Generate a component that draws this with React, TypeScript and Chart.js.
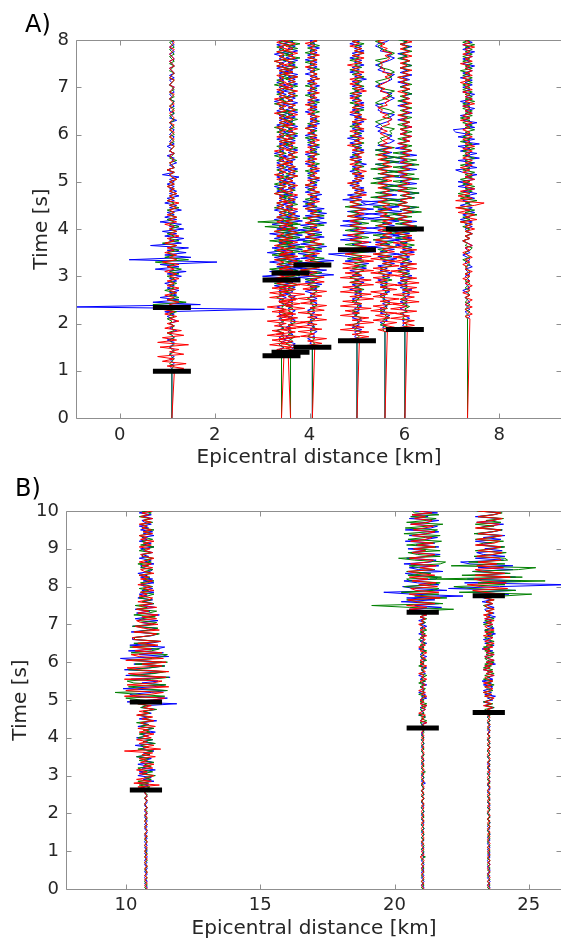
import React, { useEffect, useRef } from "react";
import { Chart, registerables } from "chart.js";

Chart.register(...registerables);

// ---------------- Panel A (dt = 0.05 s from onset, amplitude unit = 0.05 km) ----------------
const A_DT = 0.05;
const A_UNIT = 0.05;
const A_STATIONS = [1.1, 3.41, 3.6, 4.06, 5.0, 5.59, 6.01, 7.33];
const A_ONSETS = [0.95, 1.3, 1.37, 1.48, 1.62, 1.82, 1.86, 2.1];
const A_P_PICKS = [0.99, 1.32, 1.39, 1.5, 1.635, null, 1.875, null];
const A_S_PICKS = [2.34, 2.92, 3.07, 3.24, 3.56, null, 4.0, null];
const A_PICK_HALF = 0.4;
const A_X_TICKS = [0, 2, 4, 6, 8];
const A_Y_TICKS = [0, 1, 2, 3, 4, 5, 6, 7, 8];

const A1_BLUE = [
  0, 1, 0, -1, 1, 0, -1, 1, -1, 0, 1, -1, 0, 1, -2, 1, 0, -1, 2, -1,
  1, -1, 2, 0, -2, 1, -3, 39, -42, 12, -8, 3, -5, 2, -1, 3, -2, 1, -3, 2,
  -1, 4, -2, 6, -7, 3, -5, 19, -18, 8, -3, 6, -2, 7, -9, 4, -1, 5, -3, 2,
  -4, 5, -1, 4, -5, 2, -3, 1, -2, 4, -1, 2, -3, 1, -2, 3, -1, 2, -1, 1,
  -2, 1, -1, 3, -4, 1, -2, 1, -1, 2, 0, 1, -2, 1, -1, 0, -2, 1, -1, 0,
  1, -1, 0, 1, -1, 0, -1, 2, -1, 0, 1, -1, -1, 1, 0, 1, -1, 0, -1, 1,
  0, 1, -1, 0, -1, 1, -1, 1, 0, -1, 1, 0, -1, 1, 0, -1, 1, 0, -1, 1, 0, 1,
];
const A1_GREEN = [
  0, -1, 0, 1, -1, 0, 1, 0, -1, 1, 0, -1, 1, 0, -1, 1, 0, -2, 1, 0,
  1, -1, 0, -2, 1, -1, 2, -3, 5, -8, 6, -2, 3, -1, 2, -3, 1, -1, 2, -1,
  1, -2, 3, -1, 4, -2, 1, -7, 7, -3, 1, -2, 3, -1, 2, -4, 3, -1, 1, -2,
  2, -1, 3, -1, 1, -2, 2, -1, 1, -2, 3, -1, 1, -2, 1, -1, 2, -1, 1, -2,
  1, -1, 2, 0, -1, 1, -2, 1, 0, -1, 2, -1, 0, 1, -1, 0, 1, -1, 1, 0,
  -1, 1, 0, -1, 1, 0, -1, 1, 0, -1, 1, 0, 1, -1, 0, 1, -1, 1, 0, -1,
  1, 0, -1, 0, 1, -1, 0, 1, -1, 0, 1, -1, 1, 0, -1, 1, 0, -1, 1, 0, -1, 1,
];
const A1_RED = [
  1, -3, 5, -2, 6, -4, 1, -6, 5, -1, 3, -5, 7, -6, 2, -4, 5, -2, 4, -3,
  1, -2, 3, -1, 2, -3, 1, -4, 2, -1, 3, -2, 1, -3, 2, -1, 3, -2, 1, -2,
  3, -1, 2, -3, 1, -2, 3, -4, 2, -1, 2, -3, 1, -2, 2, -3, 1, -2, 3, -1,
  2, -1, 1, -3, 2, -1, 2, -2, 1, -1, 2, -1, 3, -2, 1, -1, 2, -1, 1, -2,
  1, -1, 2, 0, -1, 1, -2, 1, 0, -1, 1, 0, -1, 1, -1, 0, 1, -1, 0, 1,
  -1, 0, 1, -1, 0, 1, -1, 0, 1, 0, -1, 1, 0, -1, 1, 0, -1, 0, 1, -1,
  0, 1, -1, 0, 1, -1, 0, 1, 0, -1, 1, 0, -1, 1, 0, -1, 0, 1, -1, 0, 1, 0,
];

const A2_BLUE = [
  0, 1, 0, -1, 1, -1, 0, 2, -1, 1, 0, -2, 1, -1, 1, 0, -1, 2, -1, 0,
  1, -2, 1, 0, -1, 2, -1, 3, -1, 2, -3, 4, -2, 6, -8, 3, -5, 6, -2, 4,
  -5, 2, -3, 5, -6, 2, -4, 6, -1, 5, -3, 2, -5, 6, -2, 3, -4, 1, -3, 4,
  -1, 2, -3, 1, -2, 3, -1, 2, -1, 3, -2, 1, -3, 2, -1, 2, -2, 1, -1, 3,
  -2, 1, -2, 1, -1, 2, -3, 1, -1, 2, -1, 3, -2, 1, -1, 2, -1, 1, -2, 2,
  -1, 2, -1, 3, -2, 1, -1, 2, -3, 1, -1, 2, -2, 1, -1, 2, -2, 1, -1, 2,
  -1, 3, -2, 1, -1, 2, -1, 1, -3, 2, -1, 1, -2, 3, -1,
];
const A2_GREEN = [
  0, -1, 1, 0, 1, -1, 0, -1, 1, 0, 1, -2, 1, 0, -1, 1, 0, -1, 2, -1,
  1, 0, 2, -1, 1, -2, 1, -1, 3, -1, 2, -3, 4, -1, 5, -2, 3, -5, 4, -1,
  4, -2, 5, -4, 1, -3, 5, -2, 4, -5, 6, -2, 5, -3, 5, -7, 8, -10, 6, -2,
  3, -1, 2, -3, 1, -2, 3, -1, 2, -3, 1, -2, 2, -3, 1, -1, 3, -2, 1, -2,
  2, -1, 3, -2, 1, -3, 2, -1, 1, -2, 3, -1, 2, -1, 3, -2, 1, -3, 2, -1,
  3, -1, 2, -2, 3, -1, 1, -3, 2, -1, 3, -2, 1, -1, 2, -3, 1, -2, 3, -1,
  2, -1, 3, -2, 1, -3, 2, -1, 3, -2, 1, -2, 3, -1, 2,
];
const A2_RED = [
  1, -3, 4, -2, 4, -5, 2, -4, 5, -6, 1, -4, 6, -3, 2, -6, 5, -2, 6, -4,
  2, -6, 4, -1, 6, -5, 2, -5, 3, -4, 5, -2, 4, -3, 1, -3, 4, -1, 3, -2,
  1, -3, 4, -1, 3, -2, 1, -3, 2, -1, 3, -2, 1, -3, 2, -1, 3, -2, 1, -2,
  2, -1, 3, -2, 1, -2, 2, -1, 1, -3, 2, -1, 2, -1, 2, -2, 1, -3, 2, -1,
  1, -2, 3, -1, 2, -1, 1, -3, 2, -1, 2, -1, 3, -2, 1, -1, 2, -2, 3, -1,
  2, -1, 1, -3, 2, -1, 2, -2, 1, -3, 2, -1, 1, -2, 3, -1, 2, -1, 1, -2,
  3, -1, 2, -2, 1, -3, 2, -1, 1, -2, 3, -1, 2, -2, 1,
];

const A3_BLUE = [
  0, -1, 1, 0, 2, -1, 0, -2, 1, -1, 0, -2, 1, 0, 2, -1, 1, 0, 2, -1,
  1, -2, 1, 0, 2, -2, 1, -1, 2, -3, 1, -2, 3, -4, 5, -2, 5, -4, 6, -1,
  4, -5, 2, -4, 5, -1, 4, -5, 6, -2, 5, -3, 4, -5, 1, -4, 5, -2, 4, -1,
  3, -2, 1, -3, 2, -1, 3, -2, 1, -3, 2, -1, 2, -3, 1, -2, 2, -1, 3, -2,
  1, -2, 2, -3, 1, -1, 3, -2, 1, -3, 2, -1, 3, -2, 1, -1, 3, -2, 1, -3,
  2, -1, 3, -2, 1, -2, 3, -1, 2, -1, 2, -3, 1, -2, 3, -1, 2, -1, 3, -2,
  1, -3, 2, -1, 3, -2, 1, -2, 3, -1, 2, -3, 1, -2, 2,
];
const A3_GREEN = [
  0, 1, -1, 0, -2, 1, 0, 2, -1, 1, -1, 0, -1, 2, 0, 1, -2, 1, -1, 1,
  -2, 1, -1, 2, -1, 0, -2, 2, -1, 3, -2, 1, -3, 4, -2, 3, -5, 4, -1, 5,
  -4, 2, -5, 4, -2, 6, -4, 1, -5, 4, -2, 5, -4, 3, -1, 3, -3, 4, -1, 2,
  -3, 1, -2, 3, -1, 2, -3, 1, -3, 2, -1, 2, -3, 1, -1, 3, -2, 3, -1, 2,
  -3, 1, -2, 3, -1, 2, -1, 3, -2, 1, -3, 2, -1, 3, -2, 1, -3, 2, -1, 3,
  -2, 1, -3, 3, -1, 2, -3, 1, -2, 3, -1, 2, -3, 3, -1, 2, -2, 3, -3, 1,
  -2, 3, -1, 2, -3, 4, -2, 1, -3, 3, -1, 4, -2, 5, -3,
];
const A3_RED = [
  -1, 3, -2, 5, -4, 1, -5, 4, -6, 2, -4, 5, -1, 6, -4, 3, -5, 1, -5, 6,
  -2, 4, -5, 3, -1, 6, -5, 2, -5, 4, -1, 4, -5, 2, -4, 1, -3, 4, -1, 3,
  -2, 3, -4, 1, -3, 2, -1, 3, -3, 1, -2, 3, -1, 2, -3, 1, -2, 3, -1, 2,
  -1, 3, -2, 1, -3, 2, -1, 3, -2, 1, -1, 3, -2, 1, -2, 3, -1, 2, -1, 2,
  -3, 1, -2, 2, -1, 3, -2, 1, -1, 2, -3, 1, -2, 2, -1, 3, -2, 1, -2, 1,
  -2, 3, -1, 2, -1, 2, -3, 1, -2, 2, -1, 3, -2, 1, -2, 2, -1, 3, -2, 1,
  -2, 2, -3, 1, -2, 2, -1, 3, -2, 1, -2, 2, -3, 1, -2,
];

const A4_BLUE = [
  0, 1, -1, 0, -2, 1, 0, 2, -1, 1, -2, 0, -1, 2, -1, 1, -2, 1, 0, 2,
  -1, 2, -1, 1, -3, 2, -1, 4, -3, 2, -6, 9, -2, 6, -7, 3, -6, 9, -5, 2,
  -6, 4, -2, 6, -5, 1, -6, 5, -2, 4, -6, 2, -5, 6, -1, 5, -3, 6, -2, 5,
  -4, 1, -4, 3, -1, 4, -3, 1, -3, 2, -1, 3, -2, 1, -2, 3, -1, 2, -3, 1,
  -2, 1, -3, 2, -1, 3, -2, 1, -2, 2, -3, 1, -1, 2, -2, 3, -1, 2, -1, 1,
  -3, 2, -1, 2, -2, 3, -1, 1, -2, 2, -1, 3, -2, 1, -1, 2, -3, 1, -2, 2,
  -1, 2, -3, 1, -2, 2, -1, 3, -2, 1, -1, 2,
];
const A4_GREEN = [
  0, -1, 1, 0, 1, -2, 0, -1, 2, 0, 1, -2, 1, -1, 0, -2, 1, -1, 2, -1,
  1, -2, 1, 0, 2, -1, 3, -2, 1, -3, 4, -1, 4, -5, 2, -3, 5, -1, 5, -4,
  1, -5, 4, -2, 5, -4, 2, -3, 4, -5, 1, -4, 5, -2, 3, -4, 5, -1, 4, -3,
  2, -3, 1, -3, 2, -1, 3, -2, 1, -3, 2, -1, 3, -2, 1, -3, 2, -1, 3, -2,
  1, -2, 3, -1, 2, -1, 3, -2, 1, -3, 2, -1, 2, -3, 1, -2, 3, -1, 2, -1,
  3, -1, 2, -2, 3, -1, 1, -3, 2, -1, 2, -3, 1, -2, 3, -1, 2, -1, 3, -2,
  1, -3, 2, -1, 2, -3, 1, -2, 3, -1, 2, -1,
];
const A4_RED = [
  1, -3, 4, -2, 6, -5, 1, -6, 4, -6, 2, -5, 6, -2, 4, -6, 5, -1, 6, -5,
  2, -6, 4, -1, 6, -4, 2, -6, 5, -1, 5, -5, 2, -5, 3, -1, 4, -3, 1, -3,
  3, -4, 1, -3, 4, -1, 3, -3, 1, -3, 3, -1, 2, -3, 1, -2, 3, -1, 2, -3,
  1, -2, 3, -1, 2, -2, 3, -1, 2, -3, 1, -2, 3, -1, 2, -1, 3, -2, 1, -3,
  2, -1, 2, -3, 1, -2, 2, -1, 3, -1, 2, -2, 1, -3, 2, -1, 2, -1, 3, -2,
  1, -2, 2, -3, 1, -2, 2, -1, 3, -2, 1, -1, 2, -2, 3, -1, 2, -1, 1, -3,
  2, -1, 2, -2, 3, -1, 2, -1, 1, -3, 2, -1,
];

const A5_BLUE = [
  0, 1, -1, 0, -1, 2, -2, 1, 0, 2, -2, 0, -2, 1, -1, 2, -1, 0, -2, 2,
  -1, 2, -3, 1, -2, 3, -1, 3, -2, 1, -3, 4, -1, 5, -5, 2, -4, -12, 8, -3,
  7, -2, 6, -7, 1, -6, 8, -3, 6, -7, 2, -6, 7, -1, 6, -4, 7, -3, 5, 10,
  -6, 2, -4, 4, -1, 3, -3, 1, -2, 3, -1, 2, -3, 1, -2, 4, -1, 2, -3, 1,
  -2, 3, -1, 2, -3, 1, -4, 2, -1, 3, -2, 1, -2, 3, -1, 2, -3, 1, -2, 3,
  -1, 3, -2, 1, -3, 2, -1, 3, -2, 1, -2, 4, -1, 2, -3, 1, -2, 3, -1, 2,
  -3, 1, -2, 3, -1, 2, -3, 1, -2,
];
const A5_GREEN = [
  0, -1, 1, 0, 2, -1, 0, -2, 1, 0, 2, -1, 1, -2, 1, 0, 2, -2, 1, -1,
  2, -1, 3, -1, 2, -3, 1, -3, 2, -1, 3, -2, 4, -1, 3, -4, 2, -4, 5, -1,
  4, -5, 2, -3, 5, -1, 3, -5, 1, -3, 5, -2, 3, -4, 1, -3, 4, -5, 2, -3,
  1, -3, 2, -1, 3, -2, 1, -3, 2, -1, 3, -2, 1, -2, 3, -1, 2, -3, 1, -2,
  3, -1, 2, -2, 3, -1, 1, -3, 2, -1, 2, -3, 1, -2, 3, -1, 2, -1, 3, -2,
  1, -3, 2, -1, 2, -3, 1, -2, 3, -1, 2, -1, 3, -2, 1, -3, 2, -1, 2, -3,
  1, -2, 3, -1, 2, -1, 3, -2, 1,
];
const A5_RED = [
  1, -3, 5, -2, 5, -7, 3, -5, 7, -2, 5, -7, 1, -5, 6, -7, 2, -6, 7, -3,
  6, -7, 2, -6, 7, -3, 6, -7, 2, -5, 7, -6, 1, -6, 7, -2, 6, -5, 1, -5,
  4, -1, 5, -3, 2, -4, 3, -1, 4, -3, 1, -3, 2, -4, 3, -1, 4, -3, 1, -3,
  2, -3, 4, -1, 3, -2, 1, -4, 2, -1, 3, -2, 4, -1, 2, -3, 1, -3, 2, -1,
  3, -2, 1, -4, 2, -1, 3, -2, 1, -3, 3, -1, 2, -2, 4, -1, 2, -3, 1, -2,
  3, -1, 2, -3, 1, -2, 4, -1, 2, -3, 1, -3, 2, -1, 3, -2, 1, -4, 2, -1,
  3, -2, 3, -1, 2, -3, 1, -2, 3,
];

const A6_BLUE = [
  0, 1, -1, 0, -2, 1, 0, 2, -2, 0, -2, 1, -1, 2, -1, 0, -2, 2, -1, 1,
  -2, 1, -3, 2, -1, 3, -2, 1, -3, 4, -1, 5, -3, 6, -2, 4, -6, 2, -4, 6,
  -2, 6, -4, 2, -6, 4, -1, 6, -7, 2, -6, 7, -3, 6, -8, -10, 7, -4, 5, -2,
  4, -1, 5, -3, 1, -4, 3, -2, 4, -3, 1, -4, 5, -2, 4, -1, 3, -4, 2, -3,
  2, 4, 1, 3, 0, -3, -1, -4, -2, 1, 3, 2, 4, -1, -3, -2, -4, 0, 2, 4,
  1, 3, -2, -1, -4, -2, 1, 3, 2, 4, 0, -3, -1, -4, -1, 2, 4, 1, 3, -2,
  -1, -4, -3, 1, 2,
];
const A6_GREEN = [
  0, -1, 1, -2, 0, -1, 2, 0, 1, -2, 1, 0, 2, -1, 0, -2, 1, 0, 2, -2,
  1, -2, 3, -1, 2, -3, 1, -2, 3, -1, 4, -2, 3, -4, 1, -3, 5, -2, 4, -5,
  2, -5, 6, -1, 5, -4, 2, -6, 5, -1, 6, -4, 2, -5, 6, -3, 5, -6, 2, -4,
  6, -2, 4, -6, 1, -5, 6, -3, 5, -6, 2, -4, 6, -2, 5, -4, 1, -4, 4, -2,
  -3, -1, -2, 1, 3, 2, 4, -1, -2, -4, -1, 2, 1, 4, 2, -2, -1, -4, -2, 1,
  3, 1, 4, -1, -3, -2, -4, 0, 3, 1, 4, 2, -2, -3, -1, -4, 1, 2, 4, 1,
  -2, -3, -1, -4, 0,
];
const A6_RED = [
  1, -3, 4, -1, 5, -5, 2, -4, 5, -6, 1, -5, 6, -2, 6, -5, 1, -6, 5, -2,
  5, -4, 1, -5, 5, -6, 2, -5, 6, -1, 4, -6, 2, -5, 4, -1, 4, -4, 1, -4,
  3, -1, 3, -3, 1, -3, 3, -1, 4, -2, 1, -3, 3, -1, 2, -3, 1, -3, 3, -1,
  2, -3, 1, -3, 3, -1, 4, -2, 1, -3, 3, -1, 2, -3, 1, -3, 2, -1, 3, -2,
  1, -1, 2, 0, -2, 1, -2, -1, 2, 1, 3, -1, 1, -2, -1, -3, 1, 0, 2, -1,
  2, 1, -2, 0, -3, -1, 1, 2, 0, 3, -1, 0, -2, -1, -2, 1, 2, 0, 3, -1,
  1, -2, 0, -3, 1,
];

const A7_BLUE = [
  0, 1, -1, 0, -1, 2, 0, -1, 1, -2, 0, 1, -2, 1, 0, 2, -1, 3, -2, 1,
  -3, 1, -2, 3, -1, 2, -3, 1, -2, 3, -1, 2, -3, 4, -1, 3, -4, 1, -4, 3,
  -5, 2, -6, -8, 5, -2, 5, -4, 1, -5, 4, -2, 5, -4, 1, -5, 4, -2, 6, -4,
  1, -4, 5, -2, 4, -6, 1, -4, 5, -2, 4, -5, 1, -4, 5, -2, 3, -4, 1, -3,
  2, -1, 3, -2, 1, -2, 3, -1, 2, -3, 1, -2, 3, -1, 2, -3, 1, -2, 2, -1,
  3, -1, 2, -2, 1, -3, 2, -1, 3, -2, 1, -2, 3, -1, 2, -2, 1, -3, 2, -1,
  3, -2, 1, -2,
];
const A7_GREEN = [
  0, -1, 1, 0, 2, -1, 0, -2, 1, 0, 2, -1, 1, -2, 0, -1, 2, -1, 1, -2,
  1, -2, 3, -1, 2, -3, 1, -2, 3, -1, 2, -3, 1, -2, 3, -1, 4, -2, 3, -4,
  2, -4, 5, -1, 5, -4, 2, -6, 3, -5, 7, -2, 6, -4, 1, -6, 4, -2, 6, -3,
  5, -6, 1, -5, 6, -2, 4, -6, 2, -5, 6, -1, 5, -4, 2, -5, 3, -1, 3, -2,
  1, -3, 2, -1, 3, -2, 1, -3, 2, -1, 3, -2, 1, -2, 3, -1, 2, -3, 1, -2,
  3, -1, 2, -2, 3, -1, 1, -3, 2, -1, 2, -2, 3, -1, 2, -3, 1, -2, 3, -1,
  2, -2, 1, -3,
];
const A7_RED = [
  1, -3, 4, -1, 4, -6, 2, -4, 5, -6, 1, -5, 6, -2, 4, -5, 6, -1, 5, -4,
  6, -2, 5, -4, 1, -6, 5, -2, 5, -5, 1, -5, 4, -2, 5, -4, 1, -5, 4, -1,
  3, -4, 1, -3, 4, -1, 3, -3, 1, -3, 3, -1, 2, -3, 1, -2, 3, -1, 2, -3,
  1, -3, 2, -1, 3, -2, 1, -3, 2, -1, 3, -2, 1, -2, 2, -1, 3, -2, 1, -3,
  2, -1, 3, -2, 1, -2, 3, -1, 2, -2, 1, -3, 2, -1, 2, -2, 3, -1, 2, -1,
  1, -3, 2, -1, 2, -2, 1, -3, 2, -1, 3, -2, 1, -2, 2, -1, 3, -1, 2, -2,
  1, -2, 3, -1,
];

const A8_BLUE = [
  0, 1, 0, -1, 1, 0, -1, 1, 0, -1, 1, 0, -2, 1, 0, -1, 1, 0, -1, 1,
  0, -1, 2, 0, -1, 1, 0, -2, 1, 0, -1, 2, 0, -2, 1, -1, 2, 0, -1, 2,
  -1, 2, -3, 1, -2, 3, -1, 2, -3, 1, -2, 3, -1, 4, -2, 3, -4, 1, -4, 3,
  -1, 4, -2, -5, 4, -1, 3, -4, 5, -1, 4, -3, 1, -4, 5, -2, 3, -4, 1, -5,
  -6, 3, -1, 4, -2, 1, -3, 2, -1, 3, -2, 1, -3, 2, -1, 3, -2, 1, -2, 2,
  -1, 2, -3, 1, -2, 2, -1, 3, -2, 1, -2, 2, -1, 3, -2, 1, -2, 2, -1,
];
const A8_GREEN = [
  0, -1, 0, 1, -1, 0, 1, -1, 0, -1, 1, 0, 1, -1, 0, 1, -1, 0, 1, -1,
  1, 0, -1, 1, 0, -2, 1, 0, -1, 1, 2, -1, 0, -2, 1, -1, 2, -1, 1, -2,
  2, -3, 1, -2, 4, -1, 3, -4, 2, -1, 4, -3, 1, -4, 2, -1, 3, -2, 1, -3,
  2, -1, 3, -2, 1, -3, 2, -1, 3, -2, 1, -2, 3, -1, 2, -3, 1, -2, 2, -1,
  3, -1, 2, -2, 1, -3, 2, -1, 2, -2, 1, -2, 3, -1, 2, -1, 2, -2, 1, -2,
  2, -1, 2, -2, 1, -3, 2, -1, 2, -2, 1, -2, 2, -1, 2, -1, 3, -2, 1,
];
const A8_RED = [
  1, -1, 2, 0, -1, 2, -1, 0, 2, -1, 1, -2, 1, 0, 2, -1, 1, -2, 1, -1,
  2, -1, 0, -2, 1, -1, 2, 0, -2, 1, -1, 2, 0, -2, 1, -1, 2, -1, 3, -1,
  2, -3, 4, -1, 3, -4, 1, -5, 3, 7, -5, 2, -4, 1, -3, 3, -1, 2, -2, 3,
  -1, 2, -2, 1, -3, 2, -1, 2, -2, 1, -1, 2, -2, 3, -1, 1, -2, 2, -1, 1,
  -2, 1, -1, 2, -3, 1, -2, 2, -1, 1, -2, 3, -1, 2, -1, 1, -2, 2, -1, 1,
  -3, 1, -2, 2, -1, 2, -1, 1, -3, 2, -1, 2, -2, 1, -1, 3, -2, 1, -1,
];

const A_BLUE = [A1_BLUE, A2_BLUE, A3_BLUE, A4_BLUE, A5_BLUE, A6_BLUE, A7_BLUE, A8_BLUE];
const A_GREEN = [A1_GREEN, A2_GREEN, A3_GREEN, A4_GREEN, A5_GREEN, A6_GREEN, A7_GREEN, A8_GREEN];
const A_RED = [A1_RED, A2_RED, A3_RED, A4_RED, A5_RED, A6_RED, A7_RED, A8_RED];

// ---------------- Panel B (dt = 0.05 s from t = 0, amplitude unit = 0.05 km) ----------------
const B_DT = 0.05;
const B_UNIT = 0.05;
const B_STATIONS = [10.74, 21.05, 23.51];
const B_ONSETS = [0, 0, 0];
const B_P_PICKS = [2.62, 4.26, 4.67];
const B_S_PICKS = [4.95, 7.32, 7.76];
const B_PICK_HALF = 0.6;
const B_X_TICKS = [10, 15, 20, 25];
const B_Y_TICKS = [0, 1, 2, 3, 4, 5, 6, 7, 8, 9, 10];

const B1_BLUE = [
  0, 1, 0, -1, 1, 0, -1, 0, 1, -1, 0, 1, 0, -1, 1, -1, 0, 1, 0, -1,
  1, 0, -1, 1, 0, -1, 0, 1, -1, 0, 1, 0, -1, 1, -1, 0, 1, 0, -1, 0,
  1, -1, 0, 1, -1, 0, 1, 0, -1, 1, 0, -1, 1,
  1, -3, 2, -5, 6, -2, 4, -6, 1, -5, 7, -3, 2, -6, 5, -1, 4, -7, 3, -2,
  6, -4, 1, -8, 6, -2, 5, -7, 2, -4, 7, -1, 5, -6, 2, -3, 8, -5, 1, -6,
  4, -2, 7, -3, -1, 23,
  -14, 5, 16, -8, -12, 4, 15, -17, 6, 14, -3, 9, -11, 18, -15, 4, 13, -16, 2, 14,
  -9, 12, -7, -19, 17, -5, 13, -13, 8, 14, -12, 3, 11, -10,
  -10, 4, 9, -11, 2, 8, -10, 6, -3, 9, -8, 2, 10, -7, 3, -8, 7, -2,
  6, -2, 5, -6, 1, -5, 6, -3, 5, -1, -4, 6, -2, 5, -4, 1, -6, 3, 5, -2,
  -4, 6, -1, 4, -5, 2, -3, 5, -1, -4, 6, -2, 4, -5, 1, -3, 6, -2, 5, -4,
  2, -5, 4, -1, -3, 5, -2, 4, -5, 1,
];
const B1_GREEN = [
  0, -1, 1, 0, -1, 0, 1, -1, 0, 1, -1, 0, 1, 0, -1, 1, 0, -1, 0, 1,
  -1, 1, 0, -1, 0, 1, -1, 0, 1, -1, 0, 1, 0, -1, 1, 0, -1, 1, 0, -1,
  0, 1, -1, 1, 0, -1, 0, 1, -1, 0, 1, -1, 0,
  -1, 3, -5, 2, -6, 4, -1, 7, -3, 5, -2, -6, 4, -1, 6, -5, 2, -7, 3, -1,
  5, -6, 2, -4, 7, -2, 5, -6, 1, -5, 3, -2, 6, -4, 2, -7, 5, -1, 4, -6,
  3, -2, 8, -4, 1, -6,
  10, -4, -15, 14, -6, -23, 16, -3, -13, 15, -9, -14, 4, 17, -12, 6, 15, -13, 3, 14,
  -8, 16, -14, 5, 12, 16, -11, 4, 10, -12, 7, -9, 11, -8,
  -9, 3, 10, -8, 2, 9, -10, 4, 8, -6, -3, 7, -9, 2, 8, -7, 1, -8,
  6, -3, 4, -5, 1, 6, -4, 2, -5, 5, -1, -4, 6, -2, 3, -5, 4, -1, 5, -4,
  2, -6, 4, -1, 5, -3, -2, 4, -5, 1, 6, -4, 2, -3, 5, -1, -5, 4, -2, 6,
  -3, 1, -4, 5, -2, 3, -5, 1, 4, -3,
];
const B1_RED = [
  1, 0, -1, 1, 0, -1, 1, -1, 0, 1, 0, -1, 1, 0, -1, 0, 1, -1, 1, 0,
  -1, 0, 1, -1, 0, 1, 0, -1, 1, -1, 0, 1, 0, -1, 1, 0, -1, 0, 1, -1,
  1, 0, -1, 1, 0, -1, 0, 1, -1, 1, 0, -1, 1,
  3, -6, 10, -9, 4, -7, 2, 6, -5, 1, -7, 5, -2, 6, -4, 1, -5, 7, -3, 5,
  -16, 11, -2, 6, -5, 1, -7, 4, -2, 6, -5, 2, -6, 7, -1, -4, 6, -3, 5, -7,
  2, -5, 6, -2, 4, -6,
  -12, 6, 14, -16, 3, 13, -15, -4, 17, -14, 5, 12, -16, 15, -2, -13, 17, -6, -14, 12,
  -3, 15, -15, 13, -5, -11, 12, -8, 4, -10, 9, -6, 11, -9,
  -10, 3, 8, -9, 10, -2, -8, 9, -4, -7, 8, -3, 9, -6, 2, -7, 8, -5,
  5, -6, 2, 5, -5, 1, -4, 6, -2, 4, -6, 1, 5, -4, 2, -5, 6, -1, -4, 5,
  -3, 4, -5, 1, 6, -2, -4, 5, -1, 3, -5, 4, -2, 6, -4, 1, -5, 5, -2, 4,
  -3, 1, -5, 4, -2, 5, -4, 2, -3, 5,
];

const B2_BLUE = [
  0, 1, -1, 0, 1, 0, -1, 1, 0, -1, 1, -1, 0, 1, 0, -1, 0, 1, -1, 1,
  0, -1, 1, 0, -1, 0, 1, -1, 0, 1, -1, 0, 1, 0, -1, 1, 0, -1, 1, -1,
  0, 1, 0, -1, 1, 0, -1, 0, 1, -1, 1, 0, -1, 1, 0, -1, 2, -1, 0, 1,
  -1, 0, 1, 0, -1, 1, -1, 0, 1, 0, -1, 1, 0, -1, 1, -1, 0, 1, 0, -1,
  1, 0, -1, 0, 1,
  -2, 1, -1, 3, -2, 0, 2, -3, 1, -1, 2, -2, 3, -1, 0, -2, 3, -1, 2, -3,
  1, 0, -2, 3, -1, 2, -2, 1, -3, 2, 0, -1, 3, -2, 1, -2, 2, -1, 3, -2,
  0, 2, -3, 1, -1, 3, -2, 1, -2, 2, -3, 1, 0, -2, 3, -1, 2, -3, 1, -2,
  3,
  -4, 8, -10, 14, -6, 12, -16, 9, -12, 30, -8, -29, 18, -6, -15, 12, -4, -14, 10,
  11, -5, -13, 15, -3, -10, 12, -14, 6, 10, -12, 4, 13, -9, 2, -11, 12, -5, 9, -13,
  3, 11, -10, 2, 12, -13, 6, 11, -9, 2, 12, -10, 4, -8, 11, -6,
];
const B2_GREEN = [
  0, -1, 1, 0, -1, 1, 0, -1, 0, 1, -1, 1, 0, -1, 1, 0, -1, 2, -1, 0,
  1, -1, 0, 1, 0, -1, 1, -1, 0, 1, 0, -1, 1, 0, -1, 0, 1, -1, 1, 0,
  -1, 1, 0, -1, 0, 1, -1, 0, 1, -1, 1, 0, -1, 1, 0, -1, 0, 1, -1, 1,
  0, -1, 2, 0, -1, 1, 0, -1, 1, -1, 0, 1, 0, -1, 1, 0, -1, 1, 0, -1,
  1, -1, 0, 1, 0,
  2, -1, 0, -2, 3, -1, 2, -3, 1, 0, -2, 2, -1, 3, -2, 1, -1, 2, -3, 1,
  0, 2, -2, 1, -3, 2, -1, 0, 3, -2, 1, -1, 2, -3, 1, -2, 3, 0, -2, 1,
  -1, 3, -2, 1, -2, 2, 0, -3, 1, -1, 2, -2, 3, -1, 0, -2, 2, -1, 3, -2,
  1,
  4, -6, 23, -10, -38, 15, -4, -12, 18, -6, 12, -16, 8, 12, -14, 5, 13, -9, -12,
  14, -11, 6, -12, 9, -3, -10, 13, 17, -6, -18, 13, -4, -11, 13, -5, 10, -12, 3, 14,
  -11, 2, 13, -14, 5, 11, -13, 4, 15, -12, 3, 10, -9, 12, -6, -8,
];
const B2_RED = [
  1, 0, -1, 1, -1, 0, 1, 0, -1, 1, 0, -1, 1, -1, 0, 1, 0, -2, 1, 0,
  -1, 1, 0, -1, 1, -1, 0, 1, 0, -1, 1, 0, -1, 0, 1, -1, 1, 0, -1, 1,
  0, -1, 0, 1, -1, 1, 0, -1, 1, 0, -1, 1, -1, 0, 1, 0, -1, 1, 0, -1,
  0, 1, -1, 1, 0, -1, 1, 0, -1, 1, -1, 0, 1, 0, -1, 1, 0, -1, 0, 1,
  -1, 1, 0, -1, 1,
  -2, 1, 0, 3, -2, 1, -1, 2, -3, 0, 2, -1, 3, -2, 1, -2, 0, 3, -1, 2,
  -3, 1, -1, 2, 0, -2, 3, -1, 1, -3, 2, 0, -1, 3, -2, 1, -2, 2, -1, 0,
  3, -2, 1, -3, 2, -1, 0, 2, -2, 3, -1, 1, -2, 2, 0, -3, 1, -1, 2, -2,
  3,
  -3, 6, -10, 3, -12, 9, -4, -11, 13, -2, -10, 12, -5, -9, 11, -3, 10, -8, 4,
  -10, 9, -3, -11, 8, -2, 10, -9, 4, 8, -10, 3, 9, -8, 2, -7, 9, -4, 8, -9,
  2, 7, -8, 3, 9, -7, 1, 8, -9, 4, 7, -6, 2, -8, 7, -3,
];

const B3_BLUE = [
  0, 1, -1, 0, 1, 0, -1, 1, -1, 0, 1, 0, -1, 1, 0, -1, 0, 1, -1, 1,
  0, -1, 1, 0, -1, 0, 1, -1, 0, 1, 0, -1, 1, -1, 0, 1, 0, -1, 1, 0,
  -1, 0, 1, -1, 1, 0, -1, 1, 0, -1, 1, -1, 0, 1, 0, -1, 0, 1, -1, 1,
  0, -1, 1, 0, -1, 1, -1, 0, 1, 0, -1, 1, 0, -1, 0, 1, -1, 1, 0, -1,
  1, 0, -1, 1, -1, 0, 1, 0, -1, 1, 0, -1, 0,
  -2, 3, -1, 4, -3, 1, -4, 3, -1, 5, -3, 2, -4, 1, 3, -4, 2, -5, 3, -1,
  4, -2, 3, -4, 1, -3, 5, -2, 4, -1, -3, 4, -2, 3, -5, 1, 4, -3, 2, -4,
  3, -1, 5, -2, -3, 4, -1, 3, -4, 2, -3, 5, -1, 4, -2, -3, 4, -1, 3, -5,
  2, -4,
  -8, 15, -12, 20, -30, 8, 60, -18, 24, -16, 20, -10, 14, -12, 18, -8, 18, -14, -21, 11,
  -10, 12, -4, -9, 10, -3, 11, -8, 2, -10, 9, -4, 12, -9, 3, 10, -8, -2, 11, -9,
  4, 8, -10, 3, 9, -7,
];
const B3_GREEN = [
  0, -1, 1, 0, -1, 1, 0, -1, 0, 1, -1, 1, 0, -1, 0, 1, -1, 0, 1, -1,
  1, 0, -1, 1, 0, -1, 0, 1, -1, 1, 0, -1, 0, 1, -1, 1, 0, -1, 1, 0,
  -1, 0, 1, -1, 0, 1, -1, 1, 0, -1, 1, 0, -1, 0, 1, -1, 1, 0, -1, 1,
  0, -1, 0, 1, -1, 0, 1, -1, 1, 0, -1, 1, 0, -1, 0, 1, -1, 1, 0, -1,
  1, 0, -1, 0, 1, -1, 0, 1, -1, 1, 0, -1, 1,
  3, -1, -3, 4, -2, 3, -4, 1, 3, -3, 2, -4, 3, -1, -3, 4, -2, 3, -4, 1,
  -3, 4, -1, 3, -4, 2, -3, 4, -1, -3, 3, -2, 4, -3, 1, -4, 3, -2, 4, -1,
  -3, 3, -2, 4, -3, 1, 3, -4, 2, -3, 4, -1, -3, 3, -2, 4, -1, -4, 3, -2,
  4, -3,
  10, 32, -22, 20, -14, -26, 12, -8, 42, -44, 25, -20, 16, -12, 22, 35, -28, 12, -15, 14,
  12, -11, 3, 13, -10, 2, 12, -9, -4, 11, -10, 3, 9, -11, 2, 10, -9, 4, -10, 9,
  -2, 11, -8, 3, 10, -9,
];
const B3_RED = [
  1, 0, -1, 1, -1, 0, 1, 0, -1, 1, 0, -1, 0, 1, -1, 1, 0, -1, 1, 0,
  -1, 1, -1, 0, 1, 0, -1, 0, 1, -1, 1, 0, -1, 1, 0, -1, 1, -1, 0, 1,
  0, -1, 0, 1, -1, 1, 0, -1, 1, 0, -1, 1, -1, 0, 1, 0, -1, 1, 0, -1,
  0, 1, -1, 1, 0, -1, 1, -1, 0, 1, 0, -1, 0, 1, -1, 1, 0, -1, 1, 0,
  -1, 1, -1, 0, 1, 0, -1, 1, 0, -1, 0, 1, -1,
  -3, 4, -1, 3, -4, 2, -3, 1, 4, -3, 2, -4, 1, 3, -3, 2, -4, 3, -1, -3,
  4, -2, 3, -4, 1, -3, 3, -2, 4, -1, -3, 4, -2, 1, -4, 3, -2, 4, -3, 1,
  3, -4, 2, -3, 4, -1, -3, 3, -2, 4, -3, 1, -4, 3, -2, 4, -1, -3, 3, -2,
  4, -3,
  -6, 10, -4, -12, 14, -6, -16, 13, -5, -11, 16, -10, 12, -4, -10, 11, -9, 6, -8, 9,
  8, -9, 3, 10, -8, 2, 9, -10, 4, 8, -9, 2, 10, -8, 3, 9, -10, 2, 8, -9,
  3, 10, -8, 4, 9, -8,
];

const B_BLUE = [B1_BLUE, B2_BLUE, B3_BLUE];
const B_GREEN = [B1_GREEN, B2_GREEN, B3_GREEN];
const B_RED = [B1_RED, B2_RED, B3_RED];

// ---------------- styling ----------------
const FONT = "'DejaVu Sans', 'Liberation Sans', sans-serif";
const TEXT = "#262626";
const AXIS = "#8f8f8f";
const COL_BLUE = "#0000ff";
const COL_GREEN = "#008000";
const COL_RED = "#ff0000";

type Pt = { x: number; y: number };

function tracePoints(station: number, t0: number, dt: number, unit: number, values: number[]): Pt[] {
  const pts: Pt[] = [];
  if (t0 > 0) pts.push({ x: station, y: 0 });
  values.forEach((v, k) => pts.push({ x: station + v * unit, y: t0 + k * dt }));
  return pts;
}

function buildDatasets(
  stations: number[], onsets: number[], dt: number, unit: number,
  blue: number[][], green: number[][], red: number[][],
  pPicks: (number | null)[], sPicks: (number | null)[], half: number
) {
  const ds: any[] = [];
  const line = (data: Pt[], color: string, order: number, width = 1) => ({
    data, borderColor: color, backgroundColor: color, borderWidth: width,
    showLine: true, pointRadius: 0, pointHoverRadius: 0, tension: 0, order,
  });
  stations.forEach((s, i) => {
    [pPicks[i], sPicks[i]].forEach((p) => {
      if (p !== null && p !== undefined) {
        ds.push(line([{ x: s - half, y: p }, { x: s + half, y: p }], "#000000", 0, 5));
      }
    });
  });
  stations.forEach((s, i) => {
    ds.push(line(tracePoints(s, onsets[i], dt, unit, red[i]), COL_RED, 1));
    ds.push(line(tracePoints(s, onsets[i], dt, unit, green[i]), COL_GREEN, 2));
    ds.push(line(tracePoints(s, onsets[i], dt, unit, blue[i]), COL_BLUE, 3));
  });
  return ds;
}

const framePlugin = {
  id: "matlabFrame",
  beforeDatasetsDraw(chart: any) {
    const { ctx, chartArea: a } = chart;
    const xs = chart.scales.x;
    const ys = chart.scales.y;
    const L = Math.round(a.left) - 0.5;
    const T = Math.round(a.top) + 0.5;
    const B = Math.round(a.bottom) + 0.5;
    const R = Math.round(a.right) + 0.5;
    const TL = 5;
    ctx.save();
    ctx.strokeStyle = AXIS;
    ctx.lineWidth = 1;
    ctx.beginPath();
    ctx.moveTo(L, T); ctx.lineTo(R, T); ctx.lineTo(R, B); ctx.lineTo(L, B); ctx.closePath();
    for (const t of xs.ticks) {
      const px = Math.round(xs.getPixelForValue(t.value)) + 0.5;
      ctx.moveTo(px, B); ctx.lineTo(px, B - TL);
      ctx.moveTo(px, T); ctx.lineTo(px, T + TL);
    }
    for (const t of ys.ticks) {
      const py = Math.round(ys.getPixelForValue(t.value)) + 0.5;
      ctx.moveTo(L, py); ctx.lineTo(L + TL, py);
      ctx.moveTo(R, py); ctx.lineTo(R - TL, py);
    }
    ctx.stroke();
    ctx.restore();
  },
};

function makeOptions(cfg: {
  xMin: number; xMax: number; yMax: number; xTicks: number[]; yTicks: number[];
  padTop: number; yWidth: number; xHeight: number; yTitlePad: number; xTickPad: number;
}) {
  return {
    animation: false,
    responsive: false,
    devicePixelRatio: 1,
    events: [],
    layout: { padding: { top: cfg.padTop, left: 0, right: 0, bottom: 0 } },
    plugins: { legend: { display: false }, tooltip: { enabled: false }, title: { display: false } },
    scales: {
      x: {
        type: "linear",
        min: cfg.xMin,
        max: cfg.xMax,
        grid: { display: false, drawTicks: false },
        border: { display: false },
        afterBuildTicks: (s: any) => { s.ticks = cfg.xTicks.map((v) => ({ value: v })); },
        afterFit: (s: any) => { s.height = cfg.xHeight; },
        ticks: {
          font: { family: FONT, size: 18 }, color: TEXT, padding: cfg.xTickPad,
          autoSkip: false, maxRotation: 0, callback: (v: any) => String(v),
        },
        title: {
          display: true, text: "Epicentral distance [km]",
          font: { family: FONT, size: 20 }, color: TEXT, padding: { top: 0, bottom: 0 },
        },
      },
      y: {
        type: "linear",
        min: 0,
        max: cfg.yMax,
        grid: { display: false, drawTicks: false },
        border: { display: false },
        afterBuildTicks: (s: any) => { s.ticks = cfg.yTicks.map((v) => ({ value: v })); },
        afterFit: (s: any) => { s.width = cfg.yWidth; },
        ticks: {
          font: { family: FONT, size: 18 }, color: TEXT, padding: 8,
          autoSkip: false, callback: (v: any) => String(v),
        },
        title: {
          display: true, text: "Time [s]",
          font: { family: FONT, size: 20 }, color: TEXT, padding: { top: cfg.yTitlePad, bottom: 0 },
        },
      },
    },
  };
}

export default function App() {
  const refA = useRef<HTMLCanvasElement>(null);
  const refB = useRef<HTMLCanvasElement>(null);

  useEffect(() => {
    document.body.style.margin = "0";
    const chartA = new Chart(refA.current as HTMLCanvasElement, {
      type: "scatter",
      data: {
        datasets: buildDatasets(A_STATIONS, A_ONSETS, A_DT, A_UNIT, A_BLUE, A_GREEN, A_RED, A_P_PICKS, A_S_PICKS, A_PICK_HALF),
      },
      options: makeOptions({
        xMin: -0.9, xMax: 9.3, yMax: 8, xTicks: A_X_TICKS, yTicks: A_Y_TICKS,
        padTop: 40, yWidth: 77, xHeight: 52, yTitlePad: 30, xTickPad: 7,
      }) as any,
      plugins: [framePlugin],
    });
    const chartB = new Chart(refB.current as HTMLCanvasElement, {
      type: "scatter",
      data: {
        datasets: buildDatasets(B_STATIONS, B_ONSETS, B_DT, B_UNIT, B_BLUE, B_GREEN, B_RED, B_P_PICKS, B_S_PICKS, B_PICK_HALF),
      },
      options: makeOptions({
        xMin: 7.8, xMax: 26.2, yMax: 10, xTicks: B_X_TICKS, yTicks: B_Y_TICKS,
        padTop: 41, yWidth: 67, xHeight: 52, yTitlePad: 9, xTickPad: 6,
      }) as any,
      plugins: [framePlugin],
    });
    return () => {
      chartA.destroy();
      chartB.destroy();
    };
  }, []);

  const labelStyle: React.CSSProperties = {
    position: "absolute",
    fontFamily: FONT,
    fontSize: 24,
    lineHeight: "24px",
    color: "#000000",
    margin: 0,
  };

  return (
    <div style={{ position: "absolute", left: 0, top: 0, width: 561, height: 941, background: "#ffffff", overflow: "hidden" }}>
      <canvas ref={refA} width={561} height={470} style={{ position: "absolute", left: 0, top: 0, width: 561, height: 470 }} />
      <canvas ref={refB} width={561} height={471} style={{ position: "absolute", left: 0, top: 470, width: 561, height: 471 }} />
      <div style={{ ...labelStyle, left: 25, top: 12 }}>A)</div>
      <div style={{ ...labelStyle, left: 15, top: 476 }}>B)</div>
    </div>
  );
}
